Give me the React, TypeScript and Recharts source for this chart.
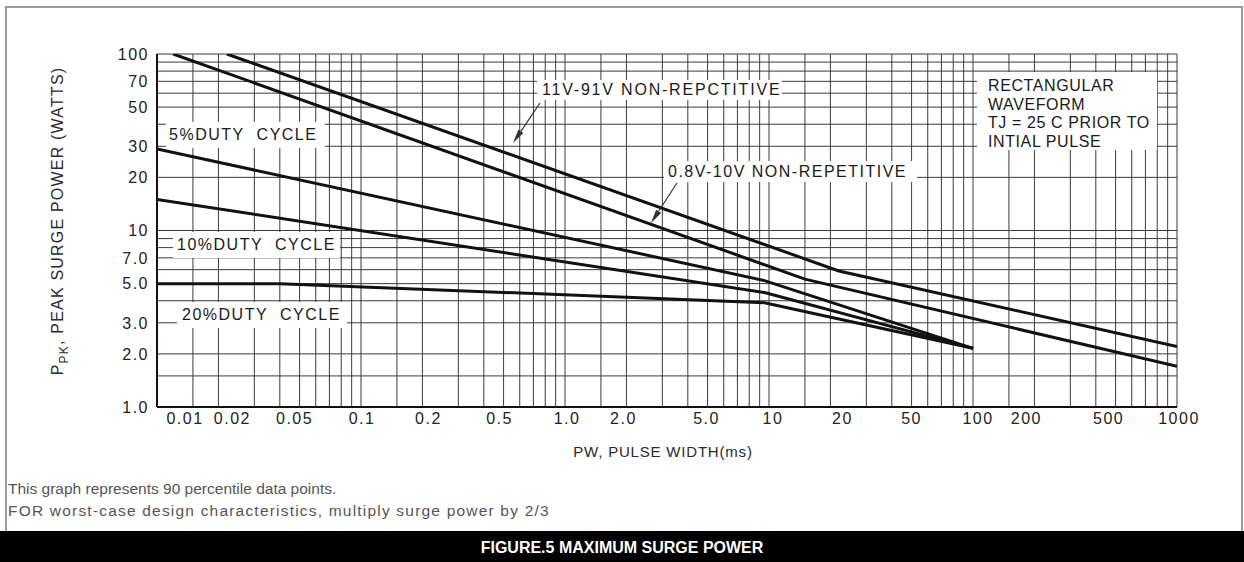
import React from 'react';
import { LineChart, Line, XAxis, YAxis, CartesianGrid } from 'recharts';

const FONT = '"Liberation Sans", Arial, Helvetica, sans-serif';

// grid values (pulse width, ms) and (peak power, W)
const X_GRID = [
  0.01, 0.015, 0.02, 0.03, 0.04, 0.05, 0.06, 0.07, 0.08, 0.09,
  0.1, 0.15, 0.2, 0.3, 0.4, 0.5, 0.6, 0.7, 0.8, 0.9,
  1, 1.5, 2, 3, 4, 5, 6, 7, 8, 9,
  10, 15, 20, 30, 40, 50, 60, 70, 80, 90,
  100, 150, 200, 300, 400, 500, 600, 700, 800, 900, 1000,
];
const Y_GRID = [1, 1.5, 2, 3, 4, 5, 6, 7, 8, 9, 10, 20, 30, 40, 50, 60, 70, 80, 90, 100];

const X_TICK_VALUES = [0.01, 0.02, 0.05, 0.1, 0.2, 0.5, 1, 2, 5, 10, 20, 50, 100, 200, 500, 1000];
const X_TICK_TEXT = ['0.01', '0.02', '0.05', '0.1', '0.2', '0.5', '1.0', '2.0', '5.0', '10', '20', '50', '100', '200', '500', '1000'];
// small horizontal nudges of the printed labels, as in the original sheet
const X_TICK_NUDGE = [28, 14, -5, 1, 6, -4, 2, -3, -1, 4, 12, 0, 5, -8, -7, 2];
const Y_TICK_VALUES = [1, 2, 3, 5, 7, 10, 20, 30, 50, 70, 100];
const Y_TICK_TEXT = ['1.0', '2.0', '3.0', '5.0', '7.0', '10', '20', '30', '50', '70', '100'];

// curves
const NR_11_91_PW = [0.022, 22, 1000];
const NR_11_91_PK = [100, 5.9, 2.2];
const NR_08_10_PW = [0.012, 15, 1000];
const NR_08_10_PK = [100, 5.3, 1.7];
const DUTY5_PW = [0.01, 9.5, 100];
const DUTY5_PK = [29, 5.2, 2.15];
const DUTY10_PW = [0.01, 9.5, 100];
const DUTY10_PK = [15, 4.45, 2.15];
const DUTY20_PW = [0.01, 0.04, 9.5, 100];
const DUTY20_PK = [5, 5, 3.9, 2.15];

const toPoints = (pw: number[], pk: number[]) => pw.map((x, i) => ({ pw: x, pk: pk[i] }));

const SERIES = [
  { name: '11V-91V', data: toPoints(NR_11_91_PW, NR_11_91_PK) },
  { name: '0.8V-10V', data: toPoints(NR_08_10_PW, NR_08_10_PK) },
  { name: '5%', data: toPoints(DUTY5_PW, DUTY5_PK) },
  { name: '10%', data: toPoints(DUTY10_PW, DUTY10_PK) },
  { name: '20%', data: toPoints(DUTY20_PW, DUTY20_PK) },
];

const XTick = (props: any) => {
  const { x, y, payload } = props;
  const i = X_TICK_VALUES.indexOf(payload.value);
  if (i < 0) return <g />;
  return (
    <text
      x={x + X_TICK_NUDGE[i]}
      y={y}
      dy="0.71em"
      textAnchor="middle"
      fontSize={16}
      letterSpacing={1.5}
      fill="#222"
      fontFamily={FONT}
    >
      {X_TICK_TEXT[i]}
    </text>
  );
};

const YTick = (props: any) => {
  const { x, y, payload } = props;
  const i = Y_TICK_VALUES.indexOf(payload.value);
  if (i < 0) return <g />;
  return (
    <text x={x} y={y} dy="0.36em" textAnchor="end" fontSize={16} letterSpacing={1.5} fill="#222" fontFamily={FONT}>
      {Y_TICK_TEXT[i]}
    </text>
  );
};

const box = (l: number, t: number, w: number, h: number, pl: number, ls = 1.5): React.CSSProperties => ({
  position: 'absolute',
  left: l,
  top: t,
  width: w,
  height: h,
  background: '#fff',
  fontSize: 16,
  letterSpacing: ls,
  color: '#1a1a1a',
  whiteSpace: 'nowrap',
  lineHeight: `${h}px`,
  paddingLeft: pl,
  boxSizing: 'border-box',
});

const Arrow = ({ x1, y1, x2, y2 }: { x1: number; y1: number; x2: number; y2: number }) => {
  const dx = x2 - x1;
  const dy = y2 - y1;
  const len = Math.sqrt(dx * dx + dy * dy);
  const ux = dx / len;
  const uy = dy / len;
  const bx = x2 - ux * 14;
  const by = y2 - uy * 14;
  const nx = -uy * 3;
  const ny = ux * 3;
  return (
    <g>
      <line x1={x1} y1={y1} x2={bx} y2={by} stroke="#333" strokeWidth={1.2} />
      <polygon points={`${x2},${y2} ${bx + nx},${by + ny} ${bx - nx},${by - ny}`} fill="#333" />
    </g>
  );
};

export default function App() {
  return (
    <div
      style={{
        position: 'absolute',
        left: 0,
        top: 0,
        width: 1244,
        height: 562,
        background: '#fff',
        overflow: 'hidden',
        fontFamily: FONT,
      }}
    >
      <div
        style={{
          position: 'absolute',
          left: 5,
          top: 6,
          width: 1238,
          height: 525,
          borderTop: '2px solid #9a9a9a',
          borderLeft: '2px solid #9a9a9a',
          borderRight: '2px solid #9a9a9a',
          boxSizing: 'border-box',
        }}
      />
      <div style={{ position: 'absolute', left: 0, top: 0 }}>
        <LineChart width={1244} height={470} margin={{ top: 54, right: 67, bottom: 33, left: 97 }}>
          <CartesianGrid stroke="#3a3a3a" strokeWidth={1} />
          <XAxis
            dataKey="pw"
            type="number"
            scale="log"
            domain={[0.01, 1000]}
            allowDataOverflow
            ticks={X_GRID}
            interval={0}
            tick={XTick}
            tickLine={false}
            tickSize={6}
            tickMargin={0}
            height={30}
            axisLine={{ stroke: '#111', strokeWidth: 2 }}
          />
          <YAxis
            dataKey="pk"
            type="number"
            scale="log"
            domain={[1, 100]}
            allowDataOverflow
            ticks={Y_GRID}
            interval={0}
            tick={YTick}
            tickLine={false}
            width={60}
            axisLine={{ stroke: '#111', strokeWidth: 2 }}
          />
          {SERIES.map((s) => (
            <Line
              key={s.name}
              data={s.data}
              dataKey="pk"
              type="linear"
              stroke="#111"
              strokeWidth={3}
              dot={false}
              activeDot={false}
              isAnimationActive={false}
            />
          ))}
        </LineChart>
      </div>

      <div style={box(166, 122, 159, 26, 3)}>5%DUTY&nbsp; CYCLE</div>
      <div style={box(173, 232, 167, 26, 4)}>10%DUTY&nbsp; CYCLE</div>
      <div style={box(177, 302, 170, 26, 5)}>20%DUTY&nbsp; CYCLE</div>
      <div style={box(537, 80, 245, 20, 5, 1.8)}>11V-91V NON-REPCTITIVE</div>
      <div style={box(664, 161, 253, 21, 4)}>0.8V-10V NON-REPETITIVE</div>
      <div
        style={{
          position: 'absolute',
          left: 977,
          top: 72,
          width: 180,
          height: 78,
          background: '#fff',
          fontSize: 16,
          letterSpacing: 0.6,
          lineHeight: '18.5px',
          color: '#1a1a1a',
          paddingLeft: 11,
          paddingTop: 5,
          boxSizing: 'border-box',
          whiteSpace: 'nowrap',
        }}
      >
        <div>RECTANGULAR</div>
        <div>WAVEFORM</div>
        <div>TJ = 25 C PRIOR TO</div>
        <div>INTIAL PULSE</div>
      </div>

      <div style={{ position: 'absolute', left: 8, top: 479, fontSize: 15.5, lineHeight: '19px', color: '#555', whiteSpace: 'nowrap' }}>
        This graph represents 90 percentile data points.
      </div>
      <div
        style={{
          position: 'absolute',
          left: 8,
          top: 501,
          fontSize: 15.5,
          letterSpacing: 1.2,
          lineHeight: '19px',
          color: '#555',
          whiteSpace: 'nowrap',
        }}
      >
        FOR worst-case design characteristics, multiply surge power by 2/3
      </div>

      <div
        style={{
          position: 'absolute',
          left: 0,
          top: 531,
          width: 1244,
          height: 31,
          background: '#000',
          color: '#fff',
          fontWeight: 'bold',
          fontSize: 16,
          lineHeight: '33px',
          textAlign: 'center',
        }}
      >
        FIGURE.5 MAXIMUM SURGE POWER
      </div>

      <svg width={1244} height={531} style={{ position: 'absolute', left: 0, top: 0, pointerEvents: 'none' }}>
        <Arrow x1={540} y1={103} x2={513} y2={143} />
        <Arrow x1={677} y1={183} x2={651} y2={223} />
        <text
          transform="translate(63,221) rotate(-90)"
          textAnchor="middle"
          fontSize={16}
          letterSpacing={1.2}
          fill="#2a2a2a"
          fontFamily={FONT}
        >
          <tspan>P</tspan>
          <tspan dy={5} fontSize={12}>PK</tspan>
          <tspan dy={-5}>, PEAK SURGE POWER (WATTS)</tspan>
        </text>
        <text x={663} y={452} dy="0.36em" textAnchor="middle" fontSize={15} letterSpacing={0.8} fill="#2a2a2a" fontFamily={FONT}>
          PW, PULSE WIDTH(ms)
        </text>
      </svg>
    </div>
  );
}
